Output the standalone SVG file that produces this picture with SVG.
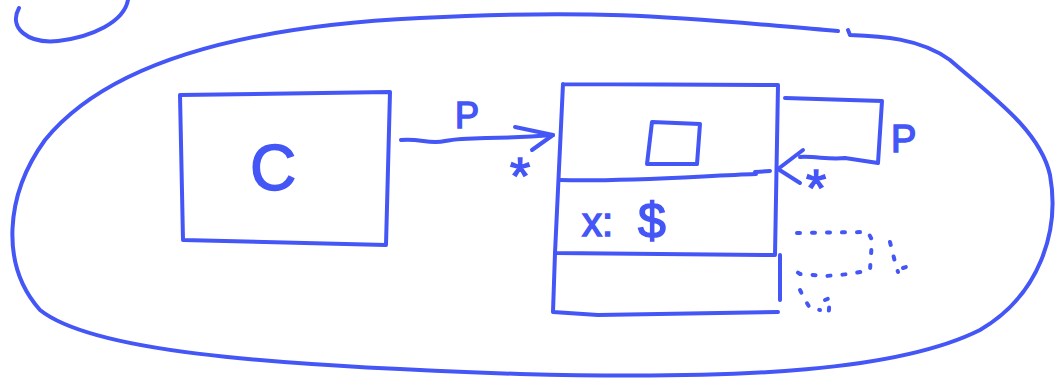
<svg xmlns="http://www.w3.org/2000/svg" width="1055" height="382" viewBox="0 0 1055 382">
<style>
.s{fill:none;stroke:#4556f6;stroke-width:4;stroke-linecap:round;stroke-linejoin:round}
.d{fill:none;stroke:#4556f6;stroke-width:4;stroke-linecap:round;stroke-dasharray:3 12}
.t{fill:#4556f6;stroke:#4556f6;stroke-width:1.5;font-family:"Liberation Sans",sans-serif}
</style>
<rect width="1055" height="382" fill="#fff"/>
<g id="blob-small"><path class="s" d="M19 8 C8 28 28 44 58 41 C92 37 124 22 128 0"/></g>
<g id="blob-big"><path class="s" d="M838 31 C700 20 620 8 420 18 C250 26 110 60 45 140 C5 195 0 265 40 310 C90 350 250 365 520 374 C750 380 900 370 980 330 C1040 295 1060 230 1050 175 C1040 130 990 95 950 60 C920 38 880 36 850 35 L848 30"/></g>
<g id="class-c">
<path class="s" d="M180 95 L390 92 L386 245 L183 240 Z"/>
<text class="t" x="250" y="190" font-size="64">C</text>
</g>
<g id="class-main">
<path class="s" d="M563 84 L778 85 L775 255 L555 253 L563 84"/>
<path class="s" d="M560 180 C620 182 700 176 756 174"/>
<path class="s" d="M555 253 L553 312 L598 315 L778 312"/>
<path class="s" d="M780 255 L780 300"/>
<path class="s" d="M652 122 L700 124 L697 164 L647 164 Z"/>
<text class="t" x="582" y="236" font-size="40">x:</text>
<text class="t" x="638" y="238" font-size="50">$</text>
</g>
<g id="class-p">
<path class="s" d="M785 98 L882 101 L878 163 L845 158 C830 160 815 156 800 157"/>
</g>
<g id="connectors">
<path class="s" d="M401 140 C420 138 430 145 445 141 C470 136 490 140 553 135"/>
<path class="s" d="M515 127 L553 135 L532 150"/>
<text class="t" x="455" y="128" font-size="36">P</text>
<text class="t" x="510" y="194" font-size="52">*</text>
<path class="s" d="M803 150 L778 169 L800 183"/>
<path class="s" d="M755 172 L770 171"/>
<text class="t" x="891" y="152" font-size="38">P</text>
<text class="t" x="806" y="206" font-size="52">*</text>
</g>
<g id="erased">
<path class="d" d="M797 233 L868 232 L872 240 L870 270 L850 274 L826 276 L800 274 L794 270"/>
<path class="d" d="M890 242 L895 262 L898 272"/>
<path class="d" d="M903 268 L912 265"/>
<path class="d" d="M800 290 L805 300 L810 308 L820 310"/>
<path class="d" d="M825 300 L830 298 L828 320"/>
</g>
</svg>
